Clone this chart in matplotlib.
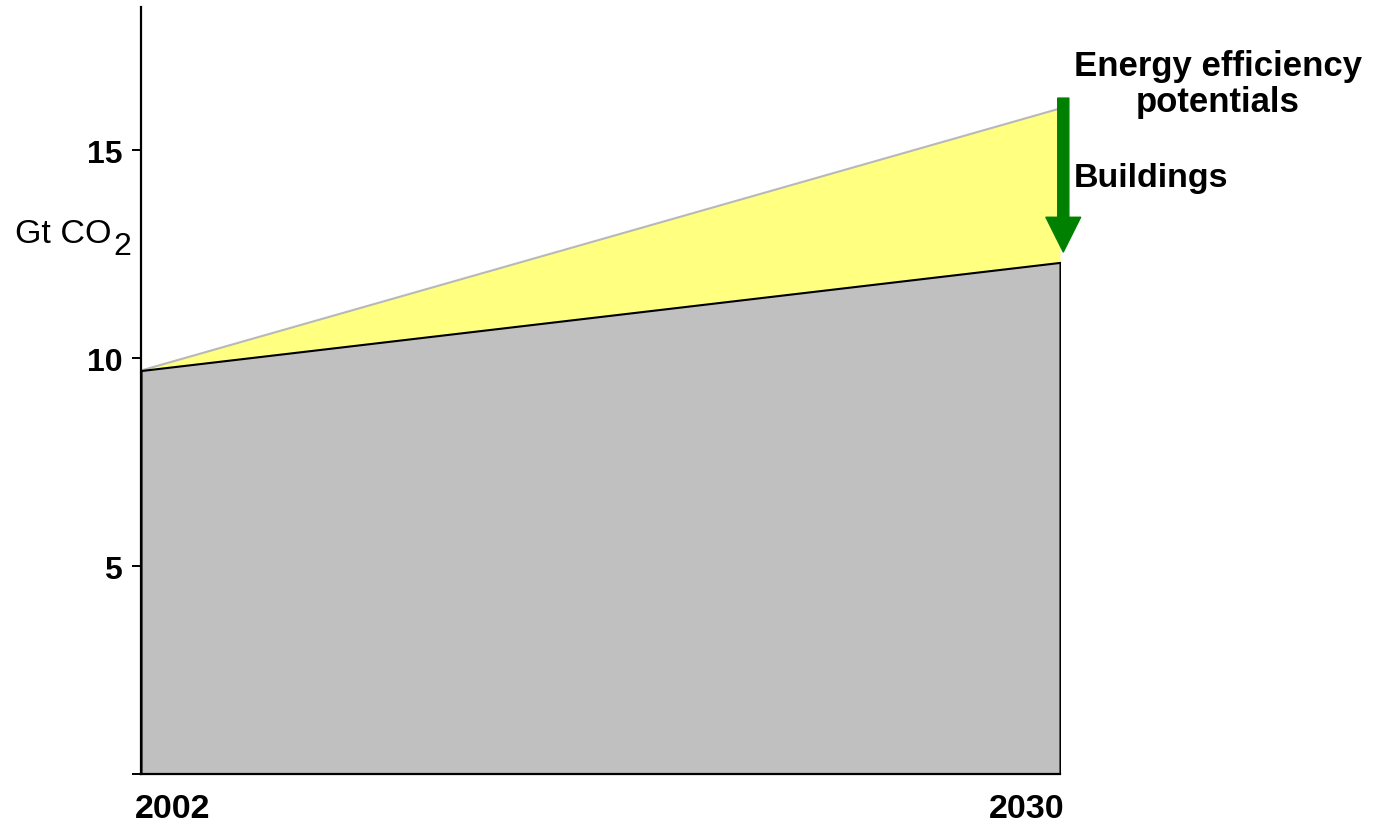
import matplotlib
matplotlib.use("Agg")
from matplotlib import pyplot as plt
from matplotlib.transforms import ScaledTranslation

# data
years = [2002, 2030]
baseline = [9.7, 12.3]   # lower line (with efficiency)
upper = [9.7, 16.0]      # projected without efficiency
arrow_from = 16.25
arrow_to = 12.55
y_ticks = [0, 5, 10, 15]
y_tick_labels = ["", "5", "10", "15"]

plt.rcParams['font.family'] = ['Liberation Sans', 'DejaVu Sans']

fig = plt.figure(figsize=(13.8, 8.28), dpi=100)
W, H = 1380, 828
ax = fig.add_axes([141 / W, 1 - 775 / H, (1060 - 141) / W, (775 - 8) / H])

# yellow area between the two lines, gray area below the lower line
ax.fill_between(years, baseline, upper, color="#ffff80", linewidth=0, zorder=1)
ax.plot(years, upper, color="#b8b8b8", linewidth=1.5, zorder=2)
ax.fill_between(years, 0, baseline, facecolor="#c0c0c0", edgecolor="black",
                linewidth=1.5, zorder=3)

ax.set_xlim(2002, 2030)
ax.set_ylim(0, 18.44)

for s in ["top", "right"]:
    ax.spines[s].set_visible(False)
for s in ["left", "bottom"]:
    ax.spines[s].set_linewidth(1.6)
    ax.spines[s].set_zorder(5)

ax.set_yticks(y_ticks)
ax.set_yticklabels(y_tick_labels, fontsize=23, fontweight="bold")
ax.tick_params(axis="y", length=6.5, width=1.4, pad=7)

ax.set_xticks(years)
ax.set_xticklabels([str(y) for y in years], fontsize=24.5, fontweight="bold")
ax.tick_params(axis="x", length=0, pad=14)
xl = ax.get_xticklabels()
xl[0].set_ha("left")
xl[1].set_ha("right")
xl[0].set_transform(xl[0].get_transform() + ScaledTranslation(-0.06, 0, fig.dpi_scale_trans))
xl[1].set_transform(xl[1].get_transform() + ScaledTranslation(0.05, 0, fig.dpi_scale_trans))

# green arrow
ax.annotate("", xy=(2030.1, arrow_to), xytext=(2030.1, arrow_from),
            arrowprops=dict(arrowstyle="simple,head_width=2.5,head_length=2.5,tail_width=0.8",
                            color="#008000", shrinkA=0, shrinkB=0, mutation_scale=10),
            annotation_clip=False, zorder=6)

fig.text(1218 / W, 1 - 76 / H, "Energy efficiency", ha="center",
         va="baseline", fontsize=25, fontweight="bold")
fig.text(1218 / W, 1 - 112 / H, "potentials", ha="center",
         va="baseline", fontsize=25, fontweight="bold")
fig.text(1074 / W, 1 - 187 / H, "Buildings", ha="left", va="baseline",
         fontsize=24.5, fontweight="bold")

# y label: Gt CO with a full-size lowered 2
fig.text(15 / W, 1 - 243 / H, "Gt CO", ha="left", va="baseline", fontsize=24.5)
fig.text(113 / W, 1 - 255 / H, "2", ha="left", va="baseline", fontsize=23)

fig.savefig("out.png", dpi=100)
